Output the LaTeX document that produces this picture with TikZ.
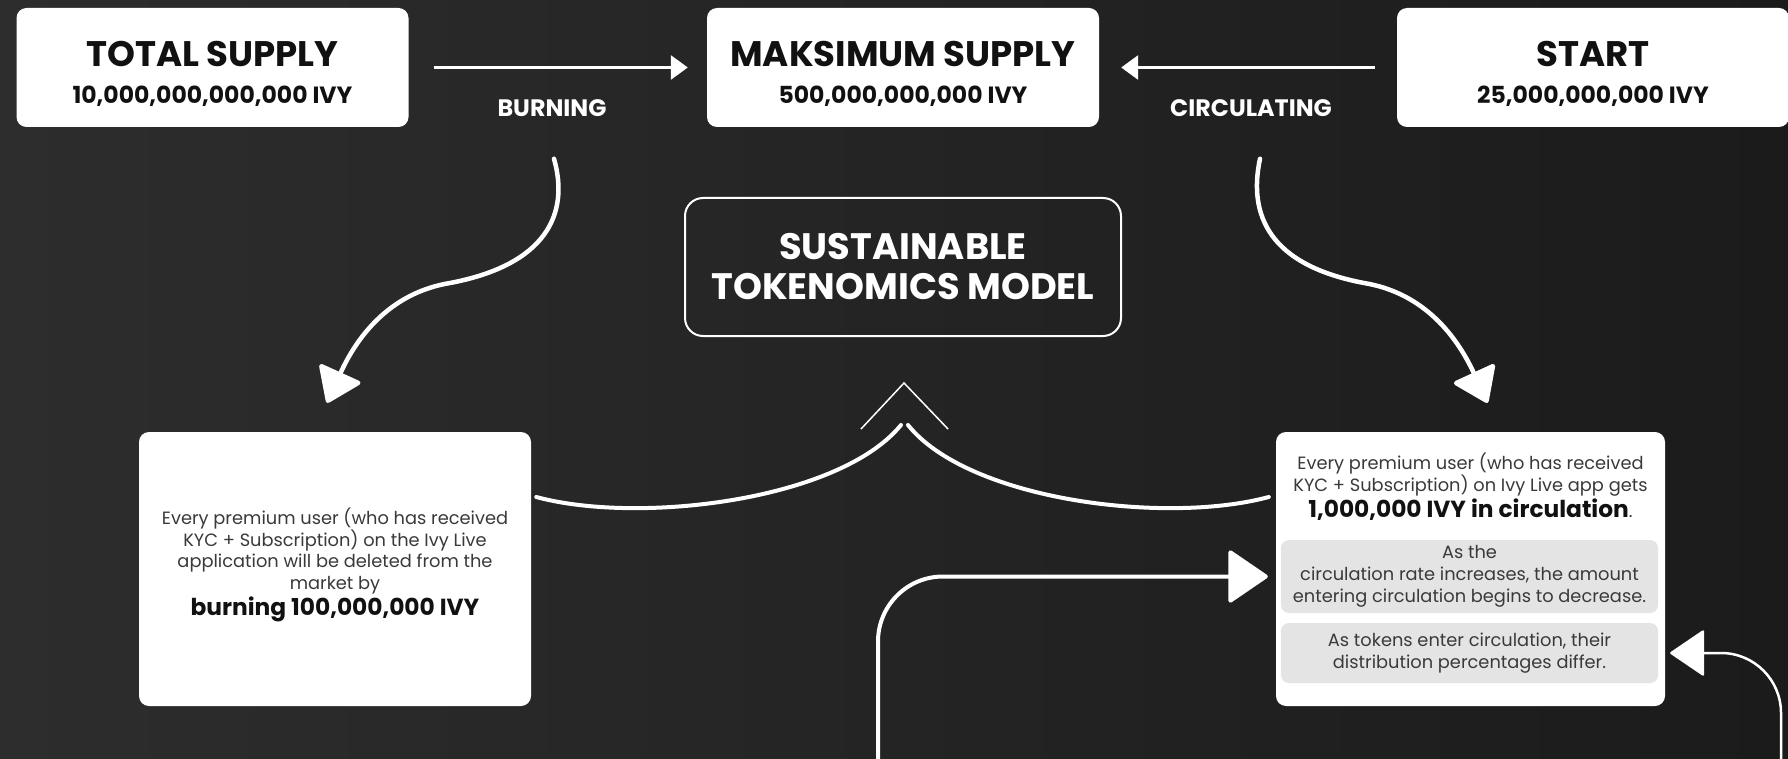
\documentclass[tikz,border=0pt]{standalone}
\usepackage{fontspec}
\setmainfont{Poppins}
\usetikzlibrary{arrows.meta}

\definecolor{bgleft}{HTML}{2D2D2D}
\definecolor{bgright}{HTML}{1B1B1B}
\definecolor{notegray}{HTML}{E4E4E4}
\definecolor{bodytext}{HTML}{3A3A3A}
\definecolor{ink}{HTML}{111111}

\newcommand{\bodysize}{\fontsize{17.8}{21.5}\selectfont}
\newcommand{\boldline}{\fontsize{23.3}{27}\selectfont\bfseries\color{ink}}

\begin{document}
\begin{tikzpicture}[x=1pt,y=-1pt,
    topbox/.style={fill=white, rounded corners=10pt, minimum width=392pt, minimum height=119pt, inner sep=0pt},
    toptitle/.style={text=ink, font=\fontsize{35.5}{38}\selectfont\bfseries, inner sep=0pt},
    topvalue/.style={text=ink, font=\fontsize{23.5}{26}\selectfont\bfseries, inner sep=0pt},
    flowlabel/.style={text=white, font=\fontsize{23.8}{26}\selectfont\bfseries, inner sep=0pt},
    infobox/.style={fill=white, rounded corners=10pt, minimum width=392pt, minimum height=274pt, inner sep=0pt},
    notebox/.style={fill=notegray, rounded corners=8pt, minimum width=377pt, inner sep=0pt,
        text=bodytext, font=\fontsize{17.8}{22}\selectfont, align=center},
    bodytxt/.style={text=bodytext, font=\bodysize, align=center, inner sep=0pt},
    toparrow/.style={white, line width=3pt, -{Triangle[length=17pt,width=24pt]}},
    swirl/.style={white, line width=4.5pt, line cap=round, -{Triangle[length=35pt,width=48pt,round]}},
    arcline/.style={white, line width=4pt, line cap=round},
    loopbig/.style={white, line width=4pt, -{Triangle[length=41pt,width=55pt,round]}},
    loopthin/.style={white, line width=2.5pt, -{Triangle[length=35pt,width=47pt,round]}}
]
    \useasboundingbox (0,0) rectangle (1788,759);
    \clip (0,0) rectangle (1788,759);
    \fill[left color=bgleft, right color=bgright] (0,0) rectangle (1788,759);

    % top row
    \node[topbox] (total) at (212.5,67.5) {};
    \node[toptitle] (totalT) at (212.5,54) {TOTAL SUPPLY};
    \node[topvalue] (totalV) at (212.5,96) {10,000,000,000,000 IVY};

    \node[topbox] (maks) at (903,67.5) {};
    \node[toptitle] (maksT) at (903,54) {MAKSIMUM SUPPLY};
    \node[topvalue] (maksV) at (903,96) {500,000,000,000 IVY};

    \node[topbox] (start) at (1593,67.5) {};
    \node[toptitle] (startT) at (1593,54) {START};
    \node[topvalue] (startV) at (1593,96) {25,000,000,000 IVY};

    \draw[toparrow, shorten <=25pt, shorten >=19pt] (total) -- (maks);
    \draw[toparrow, shorten <=22pt, shorten >=22pt] (start) -- (maks);
    \node[flowlabel] (burning) at (552,108) {BURNING};
    \node[flowlabel] (circ) at (1251,108) {CIRCULATING};

    % centre
    \node[draw=white, line width=2pt, rounded corners=18pt, minimum width=436pt, minimum height=138pt,
        text=white, font=\fontsize{36.8}{40}\selectfont\bfseries, align=center] (model) at (903,267)
        {SUSTAINABLE\\TOKENOMICS MODEL};

    % lower boxes
    \node[infobox] (burnbox) at (335,569) {};
    \node[bodytxt] (burntext) at (335,565) {Every premium user (who has received\\
        KYC + Subscription) on the Ivy Live\\
        application will be deleted from the\\
        market by\\[2pt]
        {\boldline burning 100,000,000 IVY}};

    \node[infobox, minimum width=389pt] (circbox) at (1470.5,569) {};
    \node[bodytxt] (circtext) at (1470.5,487) {Every premium user (who has received\\
        KYC + Subscription) on Ivy Live app gets\\[2pt]
        {\boldline 1,000,000 IVY in circulation}.};
    \node[notebox, minimum height=73pt] (note1) at (1469.5,576.5) {As the\\
        circulation rate increases, the amount\\
        entering circulation begins to decrease.};
    \node[notebox, minimum height=60pt] (note2) at (1469.5,653) {As tokens enter circulation, their\\
        distribution percentages differ.};

    % swirls from the labels down to the boxes
    \draw[swirl] (burning.south) ++(2,42) .. controls (570,215) and (545,265) .. (450,283)
        .. controls (395,292) and (360,330) .. ([shift={(-8,-29)}]burnbox.north);
    \draw[swirl] (circ.south) ++(9,42) .. controls (1248,215) and (1269,265) .. (1364,283)
        .. controls (1419,292) and (1454,330) .. ([shift={(17,-29)}]circbox.north);

    % arcs meeting under the chevron
    \coordinate (peak) at (904,383);
    \draw[white, line width=1.5pt] ([shift={(-43,46)}]peak) -- (peak) -- ([shift={(44,46)}]peak);
    \draw[arcline] ([shift={(5,-72)}]burnbox.east) .. controls (640,525) and (840,500) .. ([shift={(-3,42)}]peak);
    \draw[arcline] ([shift={(-7,-72)}]circbox.west) .. controls (1165,525) and (968,500) .. ([shift={(4,42)}]peak);

    % feedback loops
    \coordinate (loopA) at (878,775);
    \coordinate (loopB) at (1781,775);
    \draw[loopbig, rounded corners=65pt] (loopA) |- ([xshift=-8pt]note1.west -| circbox.west);
    \draw[loopthin, rounded corners=60pt] (loopB) |- ([xshift=5pt]note2.east -| circbox.east);
\end{tikzpicture}
\end{document}
